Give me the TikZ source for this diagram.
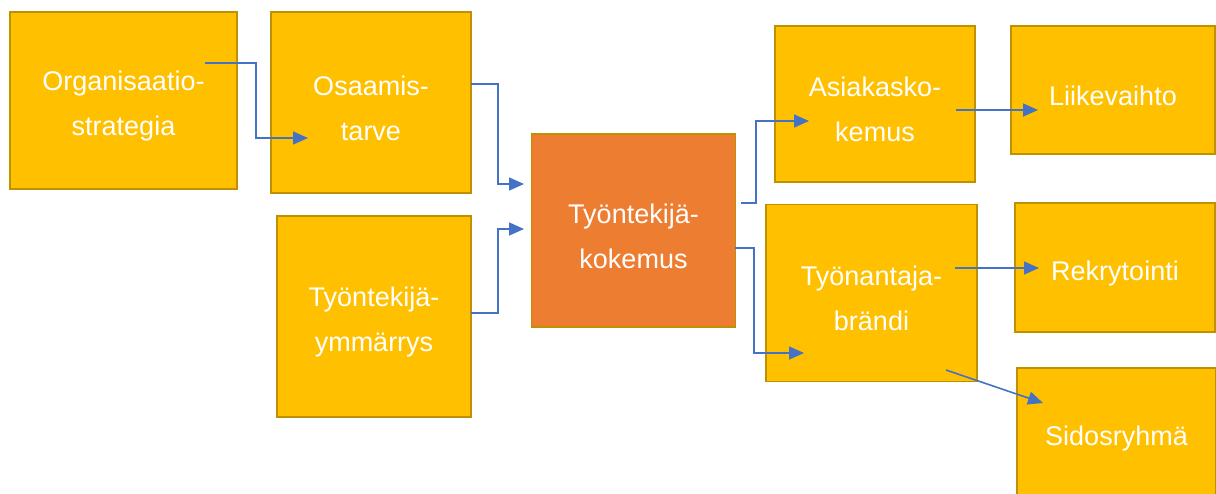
\documentclass[tikz,border=0pt]{standalone}
\usepackage{fontspec}
\setmainfont{Liberation Sans}
\usetikzlibrary{arrows.meta}

\definecolor{boxgold}{HTML}{FFC000}
\definecolor{boxedge}{HTML}{BF9000}
\definecolor{coreorange}{HTML}{ED7D31}
\definecolor{linkblue}{HTML}{4472C4}

% taller first line, pushes the text a bit down in its box
\newcommand{\lift}{\rule{0pt}{31pt}}

\tikzset{
  stage/.style={rectangle, draw=boxedge, line width=1.5pt, fill=boxgold,
    text=white, align=center, inner sep=0pt, outer sep=0pt,
    font=\fontsize{27}{45}\selectfont},
  core/.style={stage, fill=coreorange},
  link/.style={draw=linkblue, line width=1.6pt,
    -{Triangle[length=15pt,width=13pt]}}
}

\begin{document}
\begin{tikzpicture}[x=1pt, y=-1pt]
    \clip (0,0) rectangle (1216,493);

    \node at (123.5,100.5) [stage, minimum width=227pt, minimum height=177pt] (Org) {\lift Organisaatio-\\strategia};
    \node at (371,102.5) [stage, minimum width=200pt, minimum height=181pt] (Osaamis) {\lift Osaamis-\\tarve};
    \node at (374,316.5) [stage, minimum width=194pt, minimum height=201pt] (Ymmarrys) {\lift Työntekijä-\\ymmärrys};
    \node at (633.5,230.5) [core, minimum width=204pt, minimum height=193pt] (Kokemus) {\lift Työntekijä-\\kokemus};
    \node at (875,104) [stage, minimum width=200pt, minimum height=156pt] (Asiakas) {\lift Asiakasko-\\kemus};
    \node at (1113,90) [stage, minimum width=204pt, minimum height=128pt] (Liikevaihto) {\lift Liikevaihto};
    \node at (871.5,293) [stage, minimum width=211pt, minimum height=177pt] (Brandi) {\lift Työnantaja-\\brändi};
    \node at (1115,267.5) [stage, minimum width=200pt, minimum height=129pt] (Rekry) {\lift Rekrytointi};
    \node at (1116.5,432.5) [stage, minimum width=199pt, minimum height=129pt] (Sidos) {\lift Sidosryhmä};

    % free ends of the connectors
    \coordinate (OrgOut) at (205,63);
    \coordinate (OsaIn) at (308,138);
    \coordinate (OsaOut) at (471,84);
    \coordinate (KokInTop) at (524,184);
    \coordinate (YmmOut) at (471,313);
    \coordinate (KokInLow) at (524,229);
    \coordinate (KokOutTop) at (741,203);
    \coordinate (AsiIn) at (809,121);
    \coordinate (KokOutLow) at (735,248);
    \coordinate (BraIn) at (804,353);
    \coordinate (AsiOut) at (956,110);
    \coordinate (LiiIn) at (1038,110);
    \coordinate (BraOutTop) at (955,268);
    \coordinate (RekIn) at (1039,268);
    \coordinate (BraOutLow) at (946,370);
    \coordinate (SidIn) at (1043,403);

    \draw[link] (OrgOut) -- ++(51,0) |- (OsaIn);
    \draw[link] (OsaOut) -- ++(27,0) |- (KokInTop);
    \draw[link] (YmmOut) -- ++(27,0) |- (KokInLow);
    \draw[link] (KokOutTop) -- ++(15,0) |- (AsiIn);
    \draw[link] (KokOutLow) -- ++(19,0) |- (BraIn);
    \draw[link] (AsiOut) -- (LiiIn);
    \draw[link] (BraOutTop) -- (RekIn);
    \draw[link] (BraOutLow) -- (SidIn);
\end{tikzpicture}
\end{document}
